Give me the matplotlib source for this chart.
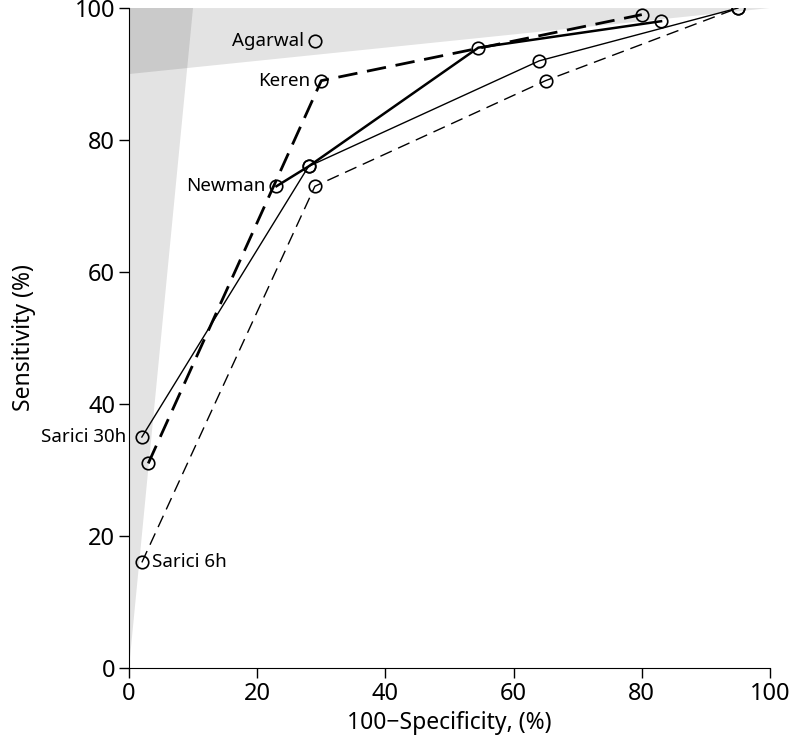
import matplotlib
matplotlib.use("Agg")
import matplotlib.pyplot as plt

plt.rcParams["font.family"] = ["Noto Sans", "DejaVu Sans"]

# ROC points (100-specificity, sensitivity)
thick_dash_x = [3, 30, 80]
thick_dash_y = [31, 89, 99]

thick_solid_x = [23, 28, 54.5, 83]
thick_solid_y = [73, 76, 94, 98]

thin_solid_x = [2, 28, 64, 95]
thin_solid_y = [35, 76, 92, 100]

thin_dash_x = [2, 29, 65, 95]
thin_dash_y = [16, 73, 89, 100]

agarwal = (29, 95)

fig = plt.figure(figsize=(7.99, 7.51), dpi=100)
ax = fig.add_axes([0.1615, 0.1105, 0.8022, 0.8788])

# shaded regions
ax.fill([0, 0, 10], [0, 100, 100], color="black", alpha=0.11, lw=0, zorder=0)
ax.fill([0, 100, 0], [90, 100, 100], color="black", alpha=0.11, lw=0, zorder=0)

mk = dict(marker="o", markersize=9, markerfacecolor="none",
          markeredgecolor="black", markeredgewidth=1.2, color="black")

ax.plot(thick_dash_x, thick_dash_y, lw=2.0, dashes=(7, 3.5), **mk)
ax.plot(thick_solid_x, thick_solid_y, lw=1.8, **mk)
ax.plot(thin_solid_x, thin_solid_y, lw=1.0, **mk)
ax.plot(thin_dash_x, thin_dash_y, lw=1.0, dashes=(9, 5), **mk)
ax.plot([agarwal[0]], [agarwal[1]], **mk)

fs = 13.5
ax.text(27.3, 95, "Agarwal", ha="right", va="center", fontsize=fs)
ax.text(28.3, 89, "Keren", ha="right", va="center", fontsize=fs)
ax.text(21.3, 73, "Newman", ha="right", va="center", fontsize=fs)
ax.text(-0.5, 35, "Sarici 30h", ha="right", va="center", fontsize=fs,
        clip_on=False)
ax.text(3.6, 16, "Sarici 6h", ha="left", va="center", fontsize=fs)

ax.set_xlim(0, 100)
ax.set_ylim(0, 100)
ax.set_xticks([0, 20, 40, 60, 80, 100])
ax.set_yticks([0, 20, 40, 60, 80, 100])
ax.tick_params(labelsize=17, length=7, width=1, direction="out", pad=3)
ax.spines["top"].set_visible(False)
ax.spines["right"].set_visible(False)
ax.set_xlabel("100\u2212Specificity, (%)", fontsize=16.5, labelpad=4)
ax.set_ylabel("Sensitivity (%)", fontsize=16.5, labelpad=28)

fig.savefig("out.png", dpi=100)
